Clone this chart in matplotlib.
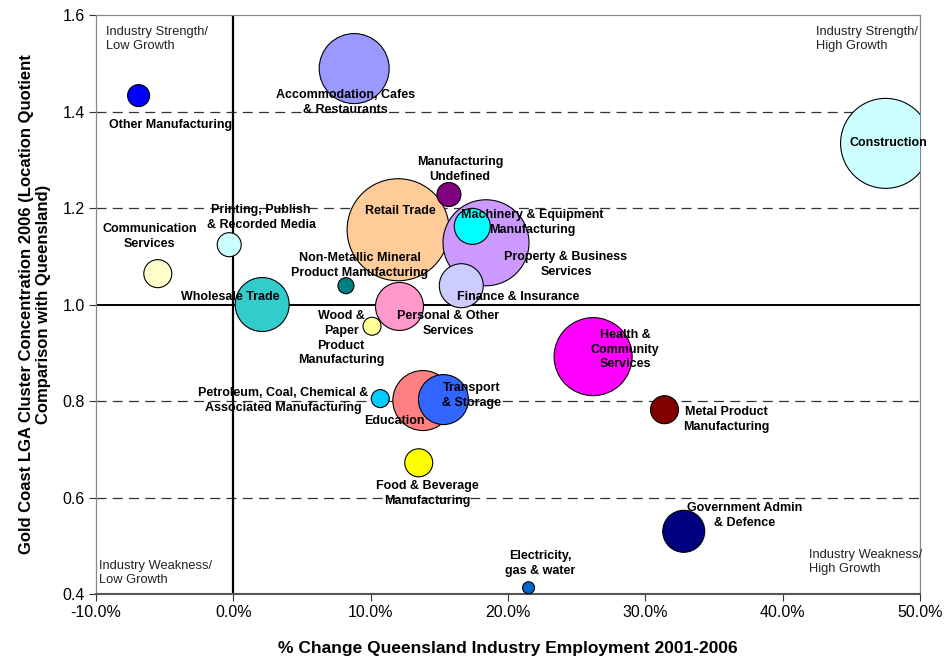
import numpy as np
import matplotlib
matplotlib.use("Agg")
import matplotlib.pyplot as plt
from matplotlib.ticker import FuncFormatter

plt.rcParams['font.family'] = ['Liberation Sans', 'DejaVu Sans']

# industry clusters, in drawing order
industries = [
    "Other Manufacturing",
    "Accommodation, Cafes\n& Restaurants",
    "Construction",
    "Retail Trade",
    "Property & Business\nServices",
    "Machinery & Equipment\nManufacturing",
    "Finance & Insurance",
    "Manufacturing\nUndefined",
    "Printing, Publish\n& Recorded Media",
    "Communication\nServices",
    "Wholesale Trade",
    "Non-Metallic Mineral\nProduct Manufacturing",
    "Personal & Other\nServices",
    "Wood &\nPaper\nProduct\nManufacturing",
    "Petroleum, Coal, Chemical &\nAssociated Manufacturing",
    "Education",
    "Transport\n& Storage",
    "Food & Beverage\nManufacturing",
    "Health &\nCommunity\nServices",
    "Metal Product\nManufacturing",
    "Government Admin\n& Defence",
    "Electricity,\ngas & water",
]
# % change in Queensland industry employment 2001-2006
emp_change = [-6.9, 8.8, 47.5, 12.0, 18.4, 17.4, 16.6, 15.7, -0.3, -5.5, 2.1,
              8.2, 12.1, 10.1, 10.7, 13.8, 15.3, 13.5, 26.2, 31.4, 32.8, 21.5]
# location quotient 2006
lq = [1.433, 1.489, 1.334, 1.155, 1.128, 1.162, 1.039, 1.228, 1.124, 1.064, 1.000,
      1.039, 0.996, 0.955, 0.805, 0.801, 0.803, 0.672, 0.892, 0.782, 0.530, 0.413]
# Gold Coast employment in each cluster (bubble size)
jobs = [1210, 12250, 20250, 26010, 18490, 3240, 4840, 1440, 1440, 1960, 7290,
        640, 5760, 810, 810, 9000, 6250, 1960, 15210, 1960, 4410, 360]
colours = ["#0000FF", "#9999FF", "#CCFFFF", "#FFCC99", "#CC99FF", "#00FFFF",
           "#CCCCFF", "#800080", "#CCFFFF", "#FFFFCC", "#33CCCC", "#008080",
           "#FF99CC", "#FFFF99", "#00CCFF", "#FF8080", "#3366FF", "#FFFF00",
           "#FF00FF", "#800000", "#000080", "#0066CC"]

# label offsets from bubble centre (pixels)
label_off = [(32, -29), (-9, -34), (3, 0), (2, 19), (80, -22), (60, 4),
             (57, -11), (11, 25), (32, 27), (-8, 37), (-32, 8), (14, 20),
             (49, -17), (-31, -12), (-97, -2), (-28, -20), (28, 4), (9, -31),
             (32, 7), (62, -10), (61, 16), (12, 24)]

fig = plt.figure(figsize=(9.47, 6.59), dpi=100)
ax = fig.add_axes([0.1014, 0.0986, 0.870, 0.8786])

ax.set_xlim(-10, 50)
ax.set_ylim(0.4, 1.6)

for yv in [0.6, 0.8, 1.2, 1.4]:
    ax.axhline(yv, color="#333333", lw=0.9, ls=(0, (8, 5)), zorder=1)
ax.axhline(1.0, color="black", lw=1.4, zorder=1)
ax.axvline(0.0, color="black", lw=1.6, zorder=1)

ax.scatter(emp_change, lq, s=np.array(jobs) * 0.2074, c=colours,
           edgecolors="black", linewidths=0.8, zorder=3)

for name, x, y, (dx, dy) in zip(industries, emp_change, lq, label_off):
    ax.annotate(name, (x, y), xytext=(dx, dy), textcoords="offset pixels",
                ha="center", va="center", fontsize=9, fontweight="bold",
                linespacing=1.3, zorder=5)

quad_font = dict(fontsize=9.3, color="#222222", linespacing=1.23, zorder=5)
ax.text(-9.27, 1.577, "Industry Strength/\nLow Growth", ha="left", va="top", **quad_font)
ax.text(42.4, 1.577, "Industry Strength/\nHigh Growth", ha="left", va="top", **quad_font)
ax.text(-9.78, 0.471, "Industry Weakness/\nLow Growth", ha="left", va="top", **quad_font)
ax.text(41.9, 0.493, "Industry Weakness/\nHigh Growth", ha="left", va="top", **quad_font)

ax.set_xticks(np.arange(-10, 51, 10))
ax.xaxis.set_major_formatter(FuncFormatter(lambda v, p: f"{v:.1f}%"))
ax.set_yticks(np.arange(0.4, 1.61, 0.2))
ax.yaxis.set_major_formatter(FuncFormatter(lambda v, p: f"{v:.1f}"))
ax.tick_params(axis="both", direction="out", length=5, width=0.8,
               colors="#333333", labelcolor="black", labelsize=11.5)
ax.tick_params(axis="x", pad=3)
ax.tick_params(axis="y", pad=3)
for side in ["top", "right", "left"]:
    ax.spines[side].set_color("#888888")
    ax.spines[side].set_linewidth(0.9)
ax.spines["bottom"].set_color("#555555")
ax.spines["bottom"].set_linewidth(1.5)

ax.set_xlabel("% Change Queensland Industry Employment 2001-2006",
              fontsize=12.5, fontweight="bold", labelpad=15)
ax.set_ylabel("Gold Coast LGA Cluster Concentration 2006 (Location Quotient\n"
              "Comparison with Queensland)", fontsize=12, fontweight="bold",
              labelpad=8, linespacing=1.2)

fig.savefig("out.png", dpi=100)
